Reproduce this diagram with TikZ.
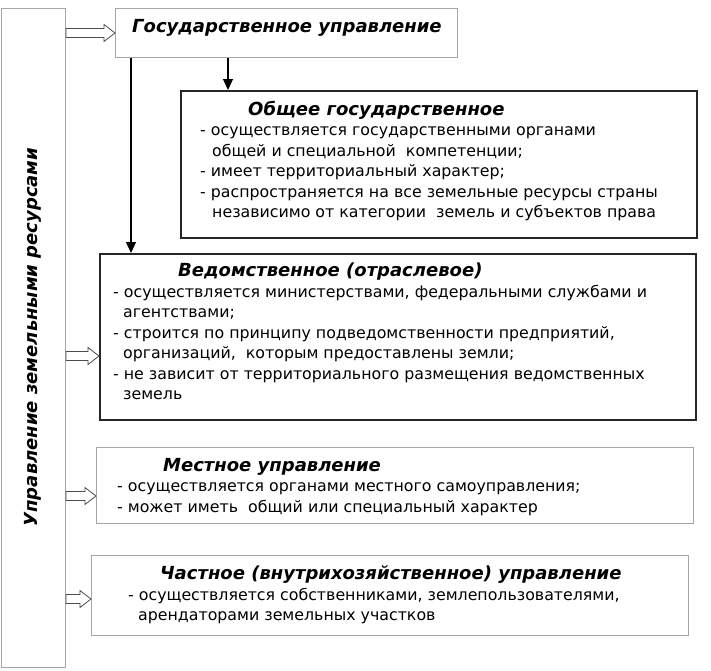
\documentclass[tikz,border=0pt]{standalone}
\usepackage{fontspec}
\setmainfont{DejaVu Sans}
\usetikzlibrary{calc,arrows.meta}
\tikzset{>={Triangle[length=11pt,width=10pt]}}
\tikzset{
  graybox/.style={draw=gray!70, line width=0.9pt, anchor=north west, inner sep=0pt},
  darkbox/.style={draw=black!85, line width=1.5pt, anchor=north west, inner sep=0pt},
  boxtext/.style={anchor=north west, inner sep=0pt, align=left,
    font=\fontsize{15.8}{20.5}\selectfont},
  headtext/.style={inner sep=0pt, font=\fontsize{18}{20}\selectfont\bfseries\itshape}
}
\newcommand{\hd}[1]{{\fontsize{18}{20}\selectfont\bfseries\itshape #1}}
\newcommand{\blockarrow}[2]{%
  \draw[gray!60!black, line width=0.8pt, fill=white]
    ($(#1)+(0,-4.5)$) -- ($(#2)+(-11,-4.5)$) -- ($(#2)+(-11,-8.5)$) -- (#2)
    -- ($(#2)+(-11,8.5)$) -- ($(#2)+(-11,4.5)$) -- ($(#1)+(0,4.5)$) -- cycle;}

\begin{document}
\begin{tikzpicture}[x=1pt,y=-1pt]
  \useasboundingbox (0,0) rectangle (711,670);
  % boxes
  \node[graybox, minimum width=64pt, minimum height=659pt] (frame) at (1,8) {};
  \node[graybox, minimum width=342pt, minimum height=49pt] (gov) at (115,8) {};
  \node[darkbox, minimum width=516pt, minimum height=147pt] (common) at (180,90) {};
  \node[darkbox, minimum width=596pt, minimum height=166pt] (dept) at (99,253) {};
  \node[graybox, minimum width=597pt, minimum height=76pt] (local) at (96,447) {};
  \node[graybox, minimum width=597pt, minimum height=80pt] (private) at (91,555) {};

  \node[headtext, rotate=90] (frametext) at (33,337) {Управление земельными ресурсами};
  \node[headtext, anchor=north west] (govtext) at (132,19) {Государственное управление};
  \node[boxtext] (commontext) at (200,101) {%
    \hspace{48pt}\hd{Общее государственное}\\
    - осуществляется государственными органами\\
    \hspace{12pt}общей и специальной\ \ компетенции;\\
    - имеет территориальный характер;\\
    - распространяется на все земельные ресурсы страны\\
    \hspace{12pt}независимо от категории\ \ земель и субъектов права};
  \node[boxtext] (depttext) at (113,263) {%
    \hspace{65pt}\hd{Ведомственное (отраслевое)}\\
    - осуществляется министерствами, федеральными службами и\\
    \hspace{10pt}агентствами;\\
    - строится по принципу подведомственности предприятий,\\
    \hspace{10pt}организаций,\ \ которым предоставлены земли;\\
    - не зависит от территориального размещения ведомственных\\
    \hspace{10pt}земель};
  \node[boxtext] (localtext) at (117,458) {%
    \hspace{46pt}\hd{Местное управление}\\
    - осуществляется органами местного самоуправления;\\
    - может иметь\ \ общий или специальный характер};
  \node[boxtext] (privatetext) at (128,566) {%
    \hspace{32pt}\hd{Частное (внутрихозяйственное) управление}\\
    - осуществляется собственниками, землепользователями,\\
    \hspace{10pt}арендаторами земельных участков};

  % connectors
  \coordinate (c1) at (228,0);
  \coordinate (c2) at (131,0);
  \draw[->, line width=1.1pt] (gov.south -| c1) -- (common.north -| c1);
  \draw[->, line width=1.1pt] (gov.south -| c2) -- (dept.north -| c2);

  \coordinate (a1) at (0,33);
  \coordinate (a2) at (0,356);
  \coordinate (a3) at (0,496);
  \coordinate (a4) at (0,599);
  \blockarrow{frame.east |- a1}{gov.west |- a1}
  \blockarrow{frame.east |- a2}{dept.west |- a2}
  \blockarrow{frame.east |- a3}{local.west |- a3}
  \blockarrow{frame.east |- a4}{private.west |- a4}
\end{tikzpicture}
\end{document}
